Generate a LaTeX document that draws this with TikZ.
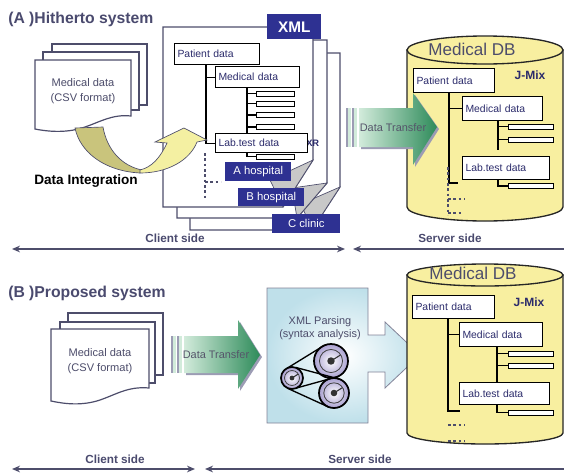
\documentclass[tikz,border=0pt]{standalone}
\usepackage{fontspec}
\setmainfont{Liberation Sans}
\usetikzlibrary{arrows.meta}
\definecolor{linec}{HTML}{4D4D6B}
\definecolor{titlec}{HTML}{4A4A6E}
\definecolor{navy}{HTML}{2E3192}
\definecolor{boxtext}{HTML}{2B2B6B}
\definecolor{olive}{HTML}{C9C47C}
\definecolor{paleyel}{HTML}{F4F0A2}
\definecolor{dbyel}{HTML}{F8EFA0}
\definecolor{grnL}{HTML}{D2EBDB}
\definecolor{grnD}{HTML}{2E8B5A}
\definecolor{shadowc}{HTML}{9C9CB4}
\definecolor{panelc}{HTML}{BFE0EA}
\definecolor{lav}{HTML}{A89FD0}
\definecolor{curl}{HTML}{C8C8C8}
\definecolor{xfertext}{HTML}{55556A}
\newcommand{\fsz}[1]{\fontsize{#1}{#1}\selectfont}
\begin{document}
\begin{tikzpicture}[x=0.75pt,y=-0.75pt,
  page/.style={draw=linec,fill=white,line width=0.9pt},
  flap/.style={draw=linec,fill=curl,line width=0.5pt},
  tbox/.style 2 args={draw=black,fill=white,line width=0.9pt,anchor=north west,
    align=left,inner xsep=2.2pt,inner ysep=0pt,font=\fsz{7.8},text=boxtext,
    text width=#1*0.75pt-4.4pt,minimum height=#2*0.75pt},
  sbox/.style={draw=black,fill=white,line width=0.8pt,anchor=north west,inner sep=0pt,
    minimum width=38*0.75pt,minimum height=5*0.75pt},
  link/.style={draw=black,line width=0.9pt},
  dots/.style={draw=linec,line width=0.9pt,dash pattern=on 2pt off 2pt},
  tag/.style 2 args={fill=navy,text=white,anchor=north west,inner sep=0pt,font=\fsz{8.5},
    minimum width=#1*0.75pt,minimum height=#2*0.75pt},
  title/.style={anchor=west,inner sep=0pt,font=\bfseries\fsz{11.8},text=titlec},
  side/.style={inner sep=0pt,font=\bfseries\fsz{8.8},text=titlec},
  sidearrow/.style={draw=linec,line width=1.6pt},
  doc/.style={draw=linec,fill=white,line width=0.9pt},
  doctext/.style={align=center,inner sep=0pt,font=\fontsize{8.3}{11.5}\selectfont,text=linec},
  xfer/.style={inner sep=0pt,font=\fsz{8.2},text=xfertext},
  db/.style={draw=black!85,fill=dbyel,line width=1pt},
  dbtitle/.style={inner sep=0pt,font=\fsz{12.8},text=linec},
  jmix/.style={inner sep=0pt,font=\bfseries\fsz{9},text=boxtext},
  gearline/.style={draw=black,line width=1pt}
]
\useasboundingbox (0,0) rectangle (564,472);

% ================= (A) Hitherto system =================
\node[title] (titleA) at (8,19) {(A )Hitherto system};

% stacked CSV documents
\path[doc] (52,44) rectangle (147,105);
\path[doc] (43,52) rectangle (139,110);
\path[doc] (35,60) -- (131,60) -- (131,116) .. controls (112,114) and (100,122) .. (85,127)
  .. controls (68,133) and (50,132) .. (35,129) -- cycle;
\node[doctext] (csvA) at (83,91) {Medical data\\(CSV format)};

% stacked XML pages (back to front)
\path[page] (190,53) -- (340,53) -- (340,187) -- (312,230) -- (190,230) -- cycle;
\path[flap] (340,187) -- (312,230) -- (301,204) -- cycle;
\path[page] (177,40) -- (327,40) -- (327,183) -- (297,218) -- (177,218) -- cycle;
\path[flap] (327,183) -- (297,218) -- (292,188) -- cycle;
\path[page] (163,27) -- (313,27) -- (313,160) -- (283,207) -- (163,207) -- cycle;
\path[flap] (313,160) -- (283,207) -- (270,180) -- cycle;

% XML tree on the front page
\node[tbox={85}{21}] (pd1) at (174,43) {Patient data};
\node[tbox={84}{21}] (md1) at (215,66) {Medical data};
\coordinate (br1) at (247,87);
\node[sbox] (s11) at (256,90.5) {};
\node[sbox] (s12) at (256,100.5) {};
\node[sbox] (s13) at (256,112) {};
\node[sbox] (s14) at (256,124) {};
\node[sbox] (s15) at (256,140) {};
\node[sbox] (s16) at (256,153.5) {};
\draw[link] (br1) |- (s11.west);
\draw[link] (br1) |- (s12.west);
\draw[link] (br1) |- (s13.west);
\draw[link] (br1) |- (s14.west);
\draw[link] (br1) |- (s16.west);
\node[font=\bfseries\fsz{7},text=boxtext,anchor=west,inner sep=0pt] (xr) at (306,143) {XR};
\node[tbox={92}{19}] (lt1) at (215,133) {Lab.test data};
\coordinate (tr1) at (206,64);
\draw[link] (tr1) |- (md1.west);
\draw[link] (tr1) |- (lt1.west);
\coordinate (dt1a) at (205,153);
\coordinate (dt1b) at (205,198);
\coordinate (dt1c) at (221,182);
\draw[dots] (dt1a) -- (dt1b);
\draw[dots] (dt1a |- dt1c) -- (dt1c);

% data integration arrow
\path[draw=linec,line width=0.5pt,fill=olive] (75,128) -- (103,127)
  .. controls (107,150) and (122,166) .. (142,170) -- (140,173)
  .. controls (104,171) and (80,152) .. (75,128) -- cycle;
\path[draw=linec,line width=0.5pt,fill=paleyel] (140,173)
  .. controls (168,173) and (190,160) .. (197,142) -- (207,140) -- (184,128) -- (155,142)
  -- (167,143) .. controls (160,158) and (152,167) .. (140,170) -- cycle;
\node[font=\bfseries\fsz{10.2},anchor=west,inner sep=0pt] (integ) at (34,181) {Data Integration};

% page tags
\node[tag={54}{25},font=\bfseries\fsz{11.5}] (xmltag) at (267,14) {XML};
\node[tag={66}{19}] (tagA) at (225,162) {A hospital};
\node[tag={66}{18}] (tagB) at (238,188) {B hospital};
\node[tag={68}{19}] (tagC) at (272,214) {C clinic};

% server database (A)
\path[db] (407,50) -- (407,207) arc[start angle=180,end angle=0,x radius=78,y radius=14] -- (563,50) -- cycle;
\path[db] (485,50) ellipse[x radius=78,y radius=14];
\node[dbtitle] (dbA) at (472,49) {Medical DB};
\node[jmix] (jmA) at (530,75) {J-Mix};
\node[tbox={81}{24}] (pd2) at (413,68) {Patient data};
\node[tbox={80}{24}] (md2) at (462,96) {Medical data};
\node[tbox={87}{23}] (lt2) at (462,156) {Lab.test data};
\node[sbox,minimum width=45*0.75pt] (s21) at (508,123.5) {};
\node[sbox,minimum width=45*0.75pt] (s22) at (508,136.5) {};
\node[sbox,minimum width=45*0.75pt] (s23) at (508,183) {};
\coordinate (tr2) at (449,92);
\coordinate (tr2e) at (458,183);
\draw[link] (tr2) |- (md2.west);
\draw[link] (tr2) |- (tr2e);
\coordinate (br2) at (498,120);
\coordinate (br2e) at (498,150);
\draw[link] (br2) -- (br2e);
\draw[link] (br2) |- (s21.west);
\draw[link] (br2) |- (s22.west);
\draw[link] (lt2.south -| br2) |- (s23.west);
\coordinate (dd2a) at (448,167);
\coordinate (dd2b) at (448,215);
\draw[dots] (dd2a) -- (dd2b);
\draw[dots] (448,199) -- (465,199);
\draw[dots] (448,213) -- (462,213);

% data transfer arrow (A)
\path[fill=shadowc,shift={(2,2)}] (359,108) -- (413,108) -- (413,93) -- (437,127) -- (413,165) -- (413,147) -- (359,147) -- cycle;
\path[left color=grnL,right color=grnD] (359,108) -- (413,108) -- (413,93) -- (437,127) -- (413,165) -- (413,147) -- (359,147) -- cycle;
\fill[grnL] (347,108) rectangle (351,147);
\fill[grnL] (353,108) rectangle (357,147);
\draw[shadowc,line width=1pt] (347,108) -- (347,147);
\draw[shadowc,line width=1pt] (353,108) -- (353,147);
\node[xfer] (dtA) at (393,128) {Data Transfer};

% client / server extent (A)
\coordinate (cA1) at (12,249);
\coordinate (cA2) at (345,249);
\coordinate (sA1) at (353,249);
\coordinate (sA2) at (564,249);
\draw[sidearrow,{Stealth[length=6pt,width=5pt]}-{Stealth[length=6pt,width=5pt]}] (cA1) -- (cA2);
\draw[sidearrow,{Stealth[length=6pt,width=5pt]}-] (sA1) -- (sA2);
\node[side] (clA) at (175,238) {Client side};
\node[side] (svA) at (450,238) {Server side};

% ================= (B) Proposed system =================
\node[title] (titleB) at (8,293) {(B )Proposed system};

\path[doc] (68,313) rectangle (163,375);
\path[doc] (60,322) rectangle (155,383);
\path[doc] (51,329) -- (149,329) -- (149,388) .. controls (128,386) and (115,395) .. (100,400)
  .. controls (82,406) and (65,404) .. (51,401) -- cycle;
\node[doctext] (csvB) at (100,361) {Medical data\\(CSV format)};

% data transfer arrow (B)
\path[fill=shadowc,shift={(2,2)}] (184,336) -- (238,336) -- (238,320) -- (260,355) -- (238,389) -- (238,373) -- (184,373) -- cycle;
\path[left color=grnL,right color=grnD] (184,336) -- (238,336) -- (238,320) -- (260,355) -- (238,389) -- (238,373) -- (184,373) -- cycle;
\fill[grnL] (172,336) rectangle (176,373);
\fill[grnL] (178,336) rectangle (182,373);
\draw[shadowc,line width=1pt] (172,336) -- (172,373);
\draw[shadowc,line width=1pt] (178,336) -- (178,373);
\node[xfer] (dtB) at (216,355) {Data Transfer};

% XML parsing panel with outgoing arrow
\path[inner color=white,outer color=panelc,draw=linec!70,line width=0.6pt]
  (267,288) -- (368,288) -- (368,335) -- (385,335) -- (385,322) -- (420,355) -- (385,388)
  -- (385,372) -- (368,372) -- (368,423) -- (267,423) -- cycle;
\node[doctext,font=\fontsize{8.2}{9.5}\selectfont] (parse) at (320,328) {XML Parsing\\(syntax analysis)};

% pulleys and belts
\foreach \cx/\cy/\r in {331/361/17, 292/378/11, 334/393/15} {
  \shade[inner color=white,outer color=lav] (\cx,\cy) circle[radius=\r];
  \draw[black,line width=1.3pt] (\cx,\cy) circle[radius=\r];
  \draw[black!75,line width=0.6pt] (\cx,\cy) circle[radius=0.68*\r];
  \fill[black!80] (\cx,\cy) circle[radius=0.22*\r];
  \draw[black!80,line width=0.8pt] (\cx,\cy) -- ++(0.55*\r,-0.35*\r);
}
\draw[gearline] (287.5,368) -- (324,345.5);
\draw[gearline] (296.5,388) -- (338,376.5);
\draw[gearline] (288,388.5) -- (328.5,407);
\draw[gearline] (296,367.5) -- (339,379);

% server database (B)
\path[db] (407,275) -- (407,433) arc[start angle=180,end angle=0,x radius=78,y radius=11] -- (563,275) -- cycle;
\path[db] (485,275) ellipse[x radius=78,y radius=11];
\node[dbtitle] (dbB) at (473,273) {Medical DB};
\node[jmix] (jmB) at (529,302) {J-Mix};
\node[tbox={82}{23}] (pd3) at (412,295) {Patient data};
\node[tbox={83}{24}] (md3) at (459,322) {Medical data};
\node[sbox,minimum width=45*0.75pt] (s31) at (508,350.5) {};
\node[sbox,minimum width=45*0.75pt] (s32) at (508,362.5) {};
\node[sbox,minimum width=45*0.75pt] (s33) at (508,409.5) {};
\coordinate (br3) at (497,346);
\coordinate (br3e) at (497,382);
\draw[link] (br3) -- (br3e);
\draw[link] (br3) |- (s31.west);
\draw[link] (br3) |- (s32.west);
\node[tbox={90}{22}] (lt3) at (459,382) {Lab.test data};
\draw[link] (lt3.south -| br3) |- (s33.west);
\coordinate (tr3) at (448,318);
\coordinate (tr3e) at (460,411);
\draw[link] (tr3) |- (md3.west);
\draw[link] (tr3) |- (tr3e);
\draw[dots] (448,425) -- (465,425);
\draw[dots] (448,441) -- (465,441);

% client / server extent (B)
\coordinate (cB1) at (12,469);
\coordinate (cB2) at (195,469);
\coordinate (sB1) at (205,469);
\coordinate (sB2) at (564,469);
\draw[sidearrow,{Stealth[length=6pt,width=5pt]}-{Stealth[length=6pt,width=5pt]}] (cB1) -- (cB2);
\draw[sidearrow,{Stealth[length=6pt,width=5pt]}-] (sB1) -- (sB2);
\node[side] (clB) at (115,459) {Client side};
\node[side] (svB) at (360,459) {Server side};
\end{tikzpicture}
\end{document}
